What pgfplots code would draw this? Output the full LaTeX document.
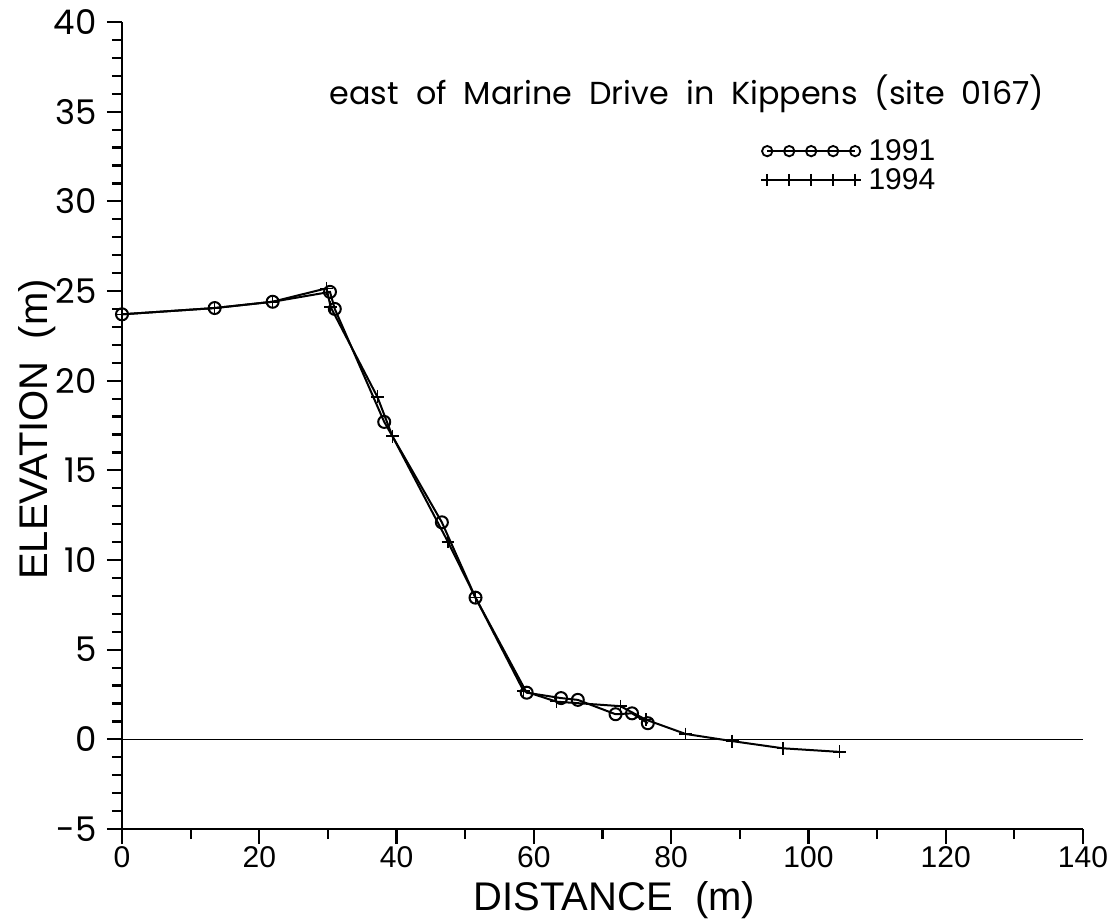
\documentclass[border=0pt]{standalone}
\usepackage{fontspec}
\setmainfont{Liberation Sans}
\newfontfamily\geofont{Poppins}
\usepackage{pgfplots}
\pgfplotsset{compat=1.18}
\begin{document}
\begin{tikzpicture}
\begin{axis}[
  scale only axis,
  width=480.5pt, height=403.5pt,
  xmin=0, xmax=140, ymin=-5, ymax=40,
  axis x line=bottom, axis y line=left,
  axis line style={-, line width=1.4pt},
  xtick={0,20,...,140}, minor xtick={10,30,...,130},
  ytick={-5,0,...,40}, minor ytick={-4,-3,...,39},
  tick align=outside,
  major tick length=7.5pt, minor tick length=5pt,
  every tick/.style={line width=1.1pt, black},
  /pgf/number format/assume math mode=true,
  xticklabel style={font=\fontsize{15}{15}\selectfont, inner sep=1pt},
  yticklabel style={font=\geofont\fontsize{17}{17}\selectfont, inner sep=2pt, xshift=-3pt},
  xlabel={DISTANCE\ \ (m)},
  ylabel={ELEVATION\ \ (m)},
  xlabel style={font=\fontsize{20}{20}\selectfont, at={(rel axis cs:0.5,0)}, anchor=base, yshift=-40.5pt, xshift=6pt, inner sep=0pt},
  ylabel style={font=\fontsize{20}{20}\selectfont, at={(rel axis cs:0,0.5)}, anchor=base, yshift=37pt, xshift=-2pt, inner sep=0pt},
  clip=false,
]
\coordinate (O) at (rel axis cs:0,0);
\draw[line width=0.8pt] (axis cs:0,0) -- (axis cs:140,0);
\addplot[black, line width=1pt, mark=o, mark size=3pt, mark options={line width=1pt}]
coordinates {
(0,23.7) (13.5,24.05) (21.95,24.4) (30.3,24.95) (31.0,24.0)
(38.2,17.7) (46.6,12.1) (51.5,7.9) (58.96,2.6) (63.96,2.3)
(66.4,2.2) (71.9,1.4) (74.3,1.45) (76.6,0.9)
};
\addplot[black, line width=1pt, mark=+, mark size=3.2pt, mark options={line width=0.8pt}]
coordinates {
(0,23.7) (13.5,24.05) (21.9,24.4) (29.8,25.15) (30.4,24.1)
(37.2,19.1) (39.4,16.9) (47.5,11.0) (51.5,7.9) (58.5,2.7)
(63.3,2.1) (72.6,1.85) (76.3,1.1) (82.1,0.3) (88.9,-0.1)
(96.3,-0.5) (104.5,-0.7)
};
\node[anchor=base west, inner sep=0pt, font=\geofont\fontsize{15.9}{15.9}\selectfont] at (axis cs:30.2,35.4) {east\ \ of\ \ Marine\ \ Drive\ \ in\ \ Kippens\ \ (site\ \ 0167)};
\draw[line width=0.8pt, mark=o, mark size=2.6pt, mark options={line width=0.9pt}] plot coordinates {(94.0,32.8) (97.2,32.8) (100.4,32.8) (103.6,32.8) (106.8,32.8)};
\draw[line width=0.8pt, mark=+, mark size=3pt, mark options={line width=0.8pt}] plot coordinates {(94.0,31.2) (97.2,31.2) (100.4,31.2) (103.6,31.2) (106.8,31.2)};
\node[anchor=west, inner sep=0pt, font=\fontsize{15}{15}\selectfont] at (axis cs:108.7,32.85) {1991};
\node[anchor=west, inner sep=0pt, font=\fontsize{15}{15}\selectfont] at (axis cs:108.7,31.25) {1994};
\end{axis}
\pgfresetboundingbox
\path ([shift={(-61pt,-46pt)}]O) rectangle ++(559.5pt,460.5pt);
\end{tikzpicture}
\end{document}
